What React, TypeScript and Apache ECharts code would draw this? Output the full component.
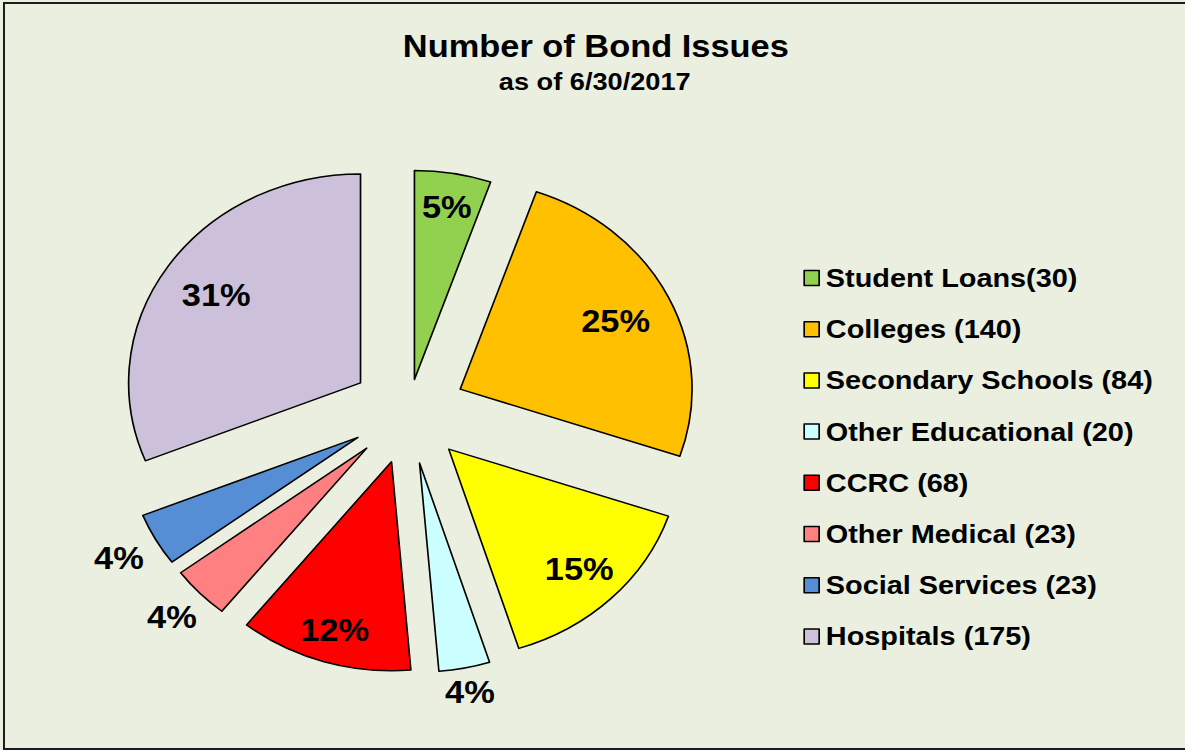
import React, { useEffect, useRef } from 'react';
import * as echarts from 'echarts';

const categories = [
  'Student Loans(30)',
  'Colleges (140)',
  'Secondary Schools (84)',
  'Other Educational (20)',
  'CCRC (68)',
  'Other Medical (23)',
  'Social Services (23)',
  'Hospitals (175)',
];
const issueCounts = [30, 140, 84, 20, 68, 23, 23, 175];
const sliceColors = ['#92D050', '#FFC000', '#FFFF00', '#CCFFFF', '#FF0000', '#FF8080', '#558ED5', '#CCC0DA'];
const titleText = 'Number of Bond Issues';
const subtitleText = 'as of 6/30/2017';

// styling / layout constants (not data)
const SCALE_X = 1.1096;
const W = 1068;
const H = 750;
const CENTER = [368, 412];
const R = 209;
const FONT = "'Liberation Sans', Arial, sans-serif";
const BG = '#EBEFDF';
const EXPLODE = [33, 52, 52, 52, 52, 52, 52, 52];
const LABEL_DIST = [175, 156, 168, 234, 176, 244, 247, 157];

function pieSeries(id: string, radius: number[], offset: number, wedgeIdx: number[], labelIdx: number[]) {
  return {
    type: 'pie',
    id,
    center: CENTER,
    radius,
    startAngle: 90,
    clockwise: true,
    selectedMode: 'multiple',
    selectedOffset: offset,
    silent: true,
    avoidLabelOverlap: false,
    percentPrecision: 0,
    emphasis: { disabled: true },
    labelLine: { show: false },
    data: categories.map((name, i) => {
      const wedge = wedgeIdx.includes(i);
      const lab = labelIdx.includes(i);
      return {
        name,
        value: issueCounts[i],
        selected: wedge || lab,
        itemStyle: wedge
          ? { color: sliceColors[i], borderColor: '#000', borderWidth: 1.5 }
          : { color: 'rgba(0,0,0,0)', borderWidth: 0 },
        label: lab
          ? {
              show: true,
              position: 'inside',
              formatter: '{d}%',
              color: '#000',
              fontSize: 31,
              fontWeight: 'bold',
              fontFamily: FONT,
              textBorderWidth: 0,
            }
          : { show: false },
      };
    }),
  };
}

const wedgeSeries = [
  pieSeries('wedges', [0, R], EXPLODE[1], categories.map((_, i) => i).filter((i) => EXPLODE[i] === EXPLODE[1]), []),
  pieSeries('studentWedge', [0, R], EXPLODE[0], [0], []),
];
const labelSeries = categories.map((_, i) =>
  pieSeries('label' + i, [LABEL_DIST[i] - 15, LABEL_DIST[i] + 9], EXPLODE[i], [], [i])
);

const option = {
  animation: false,
  backgroundColor: 'transparent',
  title: [
    {
      text: titleText,
      left: 537,
      top: 31,
      textAlign: 'center',
      padding: 0,
      textStyle: { fontSize: 31, fontWeight: 'bold', color: '#000', fontFamily: FONT, lineHeight: 31 },
    },
    {
      text: subtitleText,
      left: 536,
      top: 69,
      textAlign: 'center',
      padding: 0,
      textStyle: { fontSize: 24.5, fontWeight: 'bold', color: '#000', fontFamily: FONT, lineHeight: 24 },
    },
  ],
  legend: {
    orient: 'vertical',
    left: 724,
    top: 265,
    padding: 0,
    itemGap: 25.2,
    itemWidth: 13.5,
    itemHeight: 15,
    icon: 'rect',
    selectedMode: false,
    textStyle: {
      fontSize: 26,
      fontWeight: 'bold',
      color: '#000',
      fontFamily: FONT,
      lineHeight: 26,
      padding: [0, 0, 0, 1],
    },
    data: categories.map((name, i) => ({
      name,
      itemStyle: { color: sliceColors[i], borderColor: '#000', borderWidth: 1.5 },
    })),
  },
  series: [...wedgeSeries, ...labelSeries],
};

export default function App() {
  const ref = useRef<HTMLDivElement>(null);
  useEffect(() => {
    document.body.style.margin = '0';
    const chart = echarts.init(ref.current as HTMLDivElement, null, { renderer: 'svg' });
    chart.setOption(option as any);
    return () => chart.dispose();
  }, []);
  return (
    <div style={{ position: 'relative', width: 1185, height: 750, overflow: 'hidden', background: BG }}>
      <div
        ref={ref}
        style={{ width: W, height: H, transform: `scaleX(${SCALE_X})`, transformOrigin: '0 0' }}
      />
      <div
        style={{
          position: 'absolute',
          left: 3,
          top: 2,
          width: 1200,
          height: 744,
          border: '2px solid #1c1c1c',
          pointerEvents: 'none',
        }}
      />
    </div>
  );
}
